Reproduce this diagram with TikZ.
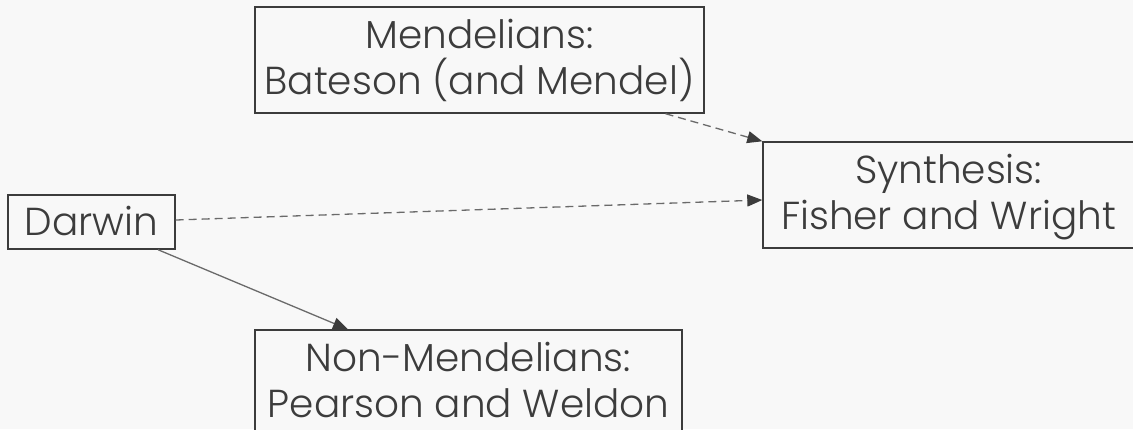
\documentclass[tikz,border=0pt]{standalone}
\usepackage{fontspec}
\setmainfont{Poppins}[UprightFont={* Light}]
\usetikzlibrary{arrows.meta,calc}
\definecolor{bg}{HTML}{F8F8F8}
\definecolor{ink}{HTML}{3C3C3C}
\definecolor{edgeline}{HTML}{6A6A6A}
\begin{document}
\begin{tikzpicture}[x=1pt,y=-1pt,
  box/.style={draw=ink, line width=1.4pt, fill=bg, text=ink, align=center,
    inner sep=0pt, font=\fontsize{39}{46}\selectfont,
    text height=73pt, text depth=5pt, minimum height=106pt},
  conn/.style={draw=edgeline, line width=1.3pt,
    -{Triangle[length=15pt,width=12pt,color=ink]}},
  dashconn/.style={conn, dash pattern=on 8pt off 5pt}]
\fill[bg] (0,0) rectangle (1133,429);
\useasboundingbox (0,0) rectangle (1133,429);
\node[box, minimum width=167pt, minimum height=54pt, text height=27pt, text depth=0pt] (darwin) at (91.5,222) {Darwin};
\node[box, minimum width=449pt] (men) at (479.5,60) {Mendelians:\\Bateson (and Mendel)};
\node[box, minimum width=371pt] (syn) at (948.5,195) {Synthesis:\\Fisher and Wright};
\node[box, minimum width=427pt] (non) at (468.5,383) {Non-Mendelians:\\Pearson and Weldon};
\coordinate (m1) at ($(men.south west)!0.913!(men.south east)$);
\coordinate (d1) at ($(darwin.east)+(0,-2)$);
\coordinate (s1) at ($(syn.west)+(0,5)$);
\coordinate (d2) at ($(darwin.south)+(66.5,0)$);
\coordinate (n1) at ($(non.north)+(-120.5,0)$);
\draw[dashconn] (m1) -- (syn.north west);
\draw[dashconn] (d1) -- (s1);
\draw[conn] (d2) -- (n1);
\end{tikzpicture}
\end{document}
